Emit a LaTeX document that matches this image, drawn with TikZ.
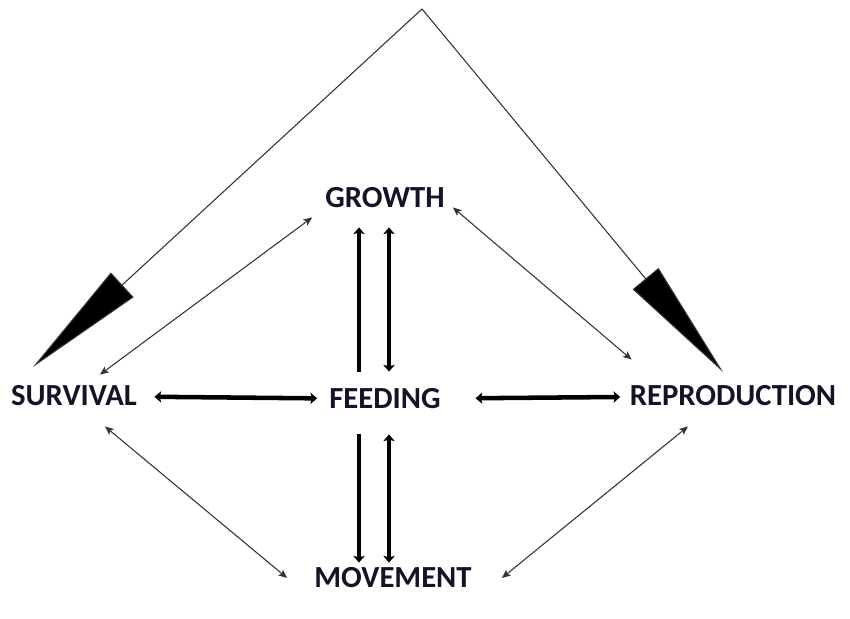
\documentclass[tikz,border=0pt]{standalone}
\usepackage{fontspec}
\setmainfont{Carlito}
\usepackage{tikz}
\usetikzlibrary{arrows.meta}
\definecolor{labelink}{RGB}{20,20,40}

\begin{document}
\begin{tikzpicture}[
    x=0.75pt, y=-0.75pt,
    label/.style={font=\bfseries\fontsize{23}{27}\selectfont, text=labelink, inner sep=3pt},
    thintip/.tip={Stealth[length=6.5pt, width=5.5pt, inset=1.5pt]},
    thicktip/.tip={Stealth[length=5pt, width=8.5pt, inset=1pt]},
    thinarrow/.style={thintip-thintip, line width=0.8pt, draw=black!80},
    thickarrow/.style={line width=3.4pt},
    wedge/.style={-{Triangle[length=91pt, width=25pt, fill=black]}, line width=0.8pt, draw=black!80}
]
    \useasboundingbox (0,0) rectangle (850,618);

    % nodes
    \node[label] (growth) at (385,198) {GROWTH};
    \node[label] (feeding) at (385,399) {FEEDING};
    \node[label] (survival) at (74,396) {SURVIVAL};
    \node[label] (reproduction) at (733,396) {REPRODUCTION};
    \node[label] (movement) at (393,578) {MOVEMENT};

    \coordinate (apex) at (422,9);
    \coordinate (survtip) at (33,367);
    \coordinate (reprotip) at (723,372);

    % big wedges from the apex
    \draw[wedge] (apex) -- (survtip);
    \draw[wedge] (apex) -- (reprotip);

    % thick links through feeding
    \draw[thickarrow, thicktip-thicktip, shorten <=10pt, shorten >=6pt] (survival) -- (feeding);
    \draw[thickarrow, thicktip-thicktip, shorten <=23pt, shorten >=4pt] (feeding) -- (reproduction);
    \draw[thickarrow, -thicktip] ([shift={(-26,-13)}]feeding.north) -- ([shift={(-26,15)}]growth.south);
    \draw[thickarrow, thicktip-thicktip] ([shift={(4,-13)}]feeding.north) -- ([shift={(4,15)}]growth.south);
    \draw[thickarrow, -thicktip] ([shift={(-26,21)}]feeding.south) -- ([shift={(-34,-1)}]movement.north);
    \draw[thickarrow, thicktip-thicktip] ([shift={(4,21)}]feeding.south) -- ([shift={(-4,-1)}]movement.north);

    % thin links round the edge
    \draw[thinarrow] ([shift={(26,-7)}]survival.north) -- ([shift={(-9,5)}]growth.south west);
    \draw[thinarrow] ([shift={(4,-5)}]growth.south east) -- ([shift={(6,-22)}]reproduction.north west);
    \draw[thinarrow] ([shift={(31,16)}]survival.south) -- ([shift={(-23,0)}]movement.west);
    \draw[thinarrow] ([shift={(-45,16)}]reproduction.south) -- ([shift={(26,0)}]movement.east);
\end{tikzpicture}
\end{document}
